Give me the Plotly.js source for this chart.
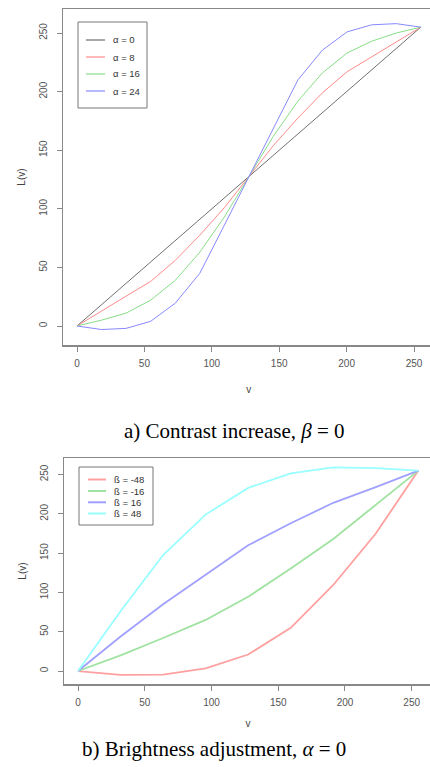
<!DOCTYPE html>
<html><head><meta charset="utf-8">
<script src="https://cdn.plot.ly/plotly-3.0.1.min.js"></script>
<style>html,body{margin:0;padding:0;background:#fff;overflow:hidden;width:430px;height:767px}#chart{width:440px;height:767px}</style>
</head><body><div id="chart"></div>
<script>
// ---- data: a) contrast increase (beta = 0)
const vContrast = [0,18.2,36.4,54.6,72.9,91.1,109.3,127.5,145.7,163.9,182.1,200.4,218.6,236.8,255];
const alpha0  = [0,18.2,36.4,54.6,72.9,91.1,109.3,127.5,145.7,163.9,182.1,200.4,218.6,236.8,255];
const alpha8  = [0,13,25.5,38,56,77.5,101,127.5,154,177.5,199,217,229.5,242,255];
const alpha16 = [0,5,11,22,39,63,93,127.5,162,192,216,233,243,250,255];
const alpha24 = [0,-3,-2,4,19.5,45,86,127.5,169,210,235.5,251,257,258,255];
const contrastNames = ['α = 0','α = 8','α = 16','α = 24'];
const contrastColors = ['#707070','#ff8a8a','#88dd88','#8888ff'];

// ---- data: b) brightness adjustment (alpha = 0)
const vBright = [0,31.9,63.75,95.6,127.5,159.4,191.25,223.1,255];
const betaM48 = [0,-5,-4.5,3.5,21,55,109.5,175,255];
const betaM16 = [0,20,42,65,94.5,130.5,168,211,255];
const beta16  = [0,44,85,123,160,188,214,234,255];
const beta48  = [0,76,147.5,199,233,251.5,259,258,255];
const brightNames = ['ß = -48','ß = -16','ß = 16','ß = 48'];
const brightColors = ['#ffa0a0','#a0e2a0','#a0a0ff','#99ffff'];

const tickVals = [0,50,100,150,200,250];
const xTitle = 'v', yTitle = 'L(v)';
const captionA = 'a) Contrast increase, <i>β</i> = 0';
const captionB = 'b) Brightness adjustment, <i>α</i> = 0';

const W = 440, H = 767;
const PX = x => x / W, PY = y => 1 - y / H;

const traces = [];
[alpha0, alpha8, alpha16, alpha24].forEach((ys, i) => traces.push({
  x: vContrast, y: ys, type: 'scatter', mode: 'lines', name: contrastNames[i],
  line: {color: contrastColors[i], width: 1}, xaxis: 'x', yaxis: 'y', hoverinfo: 'skip'
}));
[betaM48, betaM16, beta16, beta48].forEach((ys, i) => traces.push({
  x: vBright, y: ys, type: 'scatter', mode: 'lines', name: brightNames[i],
  line: {color: brightColors[i], width: 1.8}, xaxis: 'x2', yaxis: 'y2', hoverinfo: 'skip'
}));

const tickFont = {family: 'Liberation Sans, Arial, sans-serif', size: 10, color: '#555'};
const titleFont = {family: 'Liberation Sans, Arial, sans-serif', size: 10, color: '#444'};
function ax(extra) {
  return Object.assign({
    tickvals: tickVals, ticks: 'outside', ticklen: 5, tickwidth: 1, tickcolor: '#888',
    showline: true, linecolor: '#888', linewidth: 1.5, mirror: true,
    showgrid: false, zeroline: false, tickfont: tickFont, fixedrange: true
  }, extra);
}

const shapes = [], annotations = [];
function legend(box, names, colors, rowsY, lx0, lx1, tx, lw) {
  shapes.push({type: 'rect', xref: 'paper', yref: 'paper',
    x0: PX(box[0]), x1: PX(box[1]), y0: PY(box[2]), y1: PY(box[3]),
    line: {color: '#777', width: 1}, fillcolor: 'rgba(255,255,255,0)'});
  names.forEach((n, i) => {
    shapes.push({type: 'line', xref: 'paper', yref: 'paper',
      x0: PX(lx0), x1: PX(lx1), y0: PY(rowsY[i]), y1: PY(rowsY[i]),
      line: {color: colors[i], width: lw}});
    annotations.push({xref: 'paper', yref: 'paper', x: PX(tx), y: PY(rowsY[i]),
      xanchor: 'left', yanchor: 'middle', showarrow: false, text: n,
      font: {family: 'Liberation Sans, Arial, sans-serif', size: 9.5, color: '#333'}});
  });
}
legend([78, 147, 22, 108], contrastNames, contrastColors, [40, 57, 74, 91], 86, 105, 111, 1.2);
legend([79, 153, 467, 525], brightNames, brightColors, [479.5, 491, 502.3, 513.5], 88, 106, 112, 2);

annotations.push({xref: 'paper', yref: 'paper', x: PX(234), y: PY(431), xanchor: 'center', yanchor: 'middle',
  showarrow: false, text: captionA, font: {family: 'Liberation Serif, Times New Roman, serif', size: 21, color: '#000'}});
annotations.push({xref: 'paper', yref: 'paper', x: PX(214), y: PY(749), xanchor: 'center', yanchor: 'middle',
  showarrow: false, text: captionB, font: {family: 'Liberation Serif, Times New Roman, serif', size: 21, color: '#000'}});

const layout = {
  width: W, height: H, margin: {l: 0, r: 0, t: 0, b: 0},
  paper_bgcolor: '#fff', plot_bgcolor: '#fff', showlegend: false,
  xaxis: ax({domain: [PX(63), PX(434.5)], range: [-10.39, 265.2], anchor: 'y',
    ticklabelstandoff: 3, title: {text: xTitle, font: titleFont, standoff: 18}}),
  yaxis: ax({domain: [PY(345), PY(9)], range: [-16.2, 270.5], anchor: 'x', tickangle: -90,
    ticklabelstandoff: 6, title: {text: yTitle, font: titleFont, standoff: 10}}),
  xaxis2: ax({domain: [PX(64), PX(432)], range: [-10.49, 265.2], anchor: 'y2',
    ticklabelstandoff: 3, title: {text: xTitle, font: titleFont, standoff: 13}}),
  yaxis2: ax({domain: [PY(684), PY(458)], range: [-16.5, 271], anchor: 'x2', tickangle: -90,
    ticklabelstandoff: 6, title: {text: yTitle, font: titleFont, standoff: 10}}),
  shapes: shapes, annotations: annotations
};
Plotly.newPlot('chart', traces, layout, {displayModeBar: false, staticPlot: true});
</script></body></html>
